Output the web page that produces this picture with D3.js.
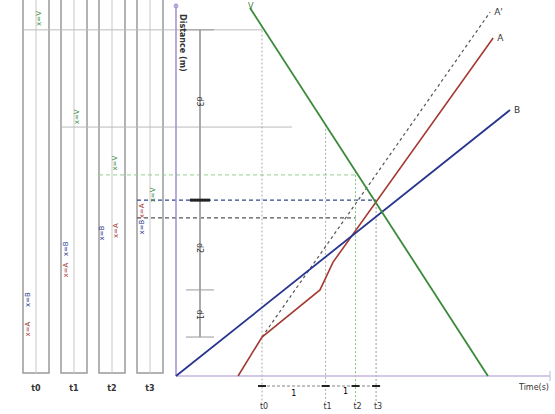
<!DOCTYPE html>
<html>
<head>
<meta charset="utf-8">
<script src="https://cdn.jsdelivr.net/npm/d3@7"></script>
<style>
  body { margin: 0; background: #fff; }
  text { font-family: "DejaVu Sans", sans-serif; }
</style>
</head>
<body>
<svg id="chart" width="555" height="414"></svg>
<script>
// snapshot times (s)
var timeNames = ['t0', 't1', 't2', 't3'];
var timeValues = [2.3, 4.0, 4.8, 5.35];

// position-time lines, [t, d]
var lineB = [[0, 0], [8.93, 7.17]];
var lineA = [[1.66, 0], [2.3, 1.05], [3.85, 2.32], [4.2, 3.07], [8.48, 9.11]];
var lineA2 = [[2.3, 1.05], [8.4, 9.81]];
var lineV = [[1.98, 9.92], [8.34, 0]];

// guide lines: distance, from lane, to time
var guideD = [9.33, 6.71, 5.42, 4.74, 4.26];
var guideLane = [0, 1, 2, 3, 3];
var guideTo = [2.3, 3.1, 4.8, 5.35, 4.8];

// ruler on the distance axis
var rulerTicks = [9.33, 4.74, 2.32, 1.05];
var rulerLabels = ['d3', 'd2', 'd1'];
var rulerLabelD = [7.4, 3.45, 1.65];

// which objects show in each lane
var laneObjects = [['V', 'B', 'A'], ['V', 'B', 'A'], ['V', 'B', 'A'], ['V', 'A', 'B']];
var intervalLabels = ['1', '1'];

var colours = { A: '#a43a33', B: '#28358f', V: '#3a8a3a', A2: '#555' };

var svg = d3.select('#chart');

var x = d3.scaleLinear().domain([0, 10]).range([176, 550]);
var y = d3.scaleLinear().domain([0, 10]).range([376, 5]);
var lane = d3.scalePoint().domain(timeNames).range([36, 150]);
var laneW = 26;

var line = d3.line()
    .x(function(d) { return x(d[0]); })
    .y(function(d) { return y(d[1]); });

// value of a polyline at time t
function valueAt(pts, t) {
  for (var i = 0; i < pts.length - 1; i++) {
    if (t >= pts[i][0] && t <= pts[i + 1][0]) {
      var k = (t - pts[i][0]) / (pts[i + 1][0] - pts[i][0]);
      return pts[i][1] + k * (pts[i + 1][1] - pts[i][1]);
    }
  }
  return pts[pts.length - 1][1];
}

var series = { A: lineA, B: lineB, V: lineV };

// lanes on the left
var lanes = svg.append('g');
timeNames.forEach(function(name) {
  var cx = lane(name);
  lanes.append('path')
    .attr('d', 'M' + (cx - laneW / 2) + ',0V373H' + (cx + laneW / 2) + 'V0')
    .attr('fill', 'none').attr('stroke', '#9a9a9a').attr('stroke-width', 1.5);
  lanes.append('line')
    .attr('x1', cx).attr('x2', cx).attr('y1', 0).attr('y2', 373)
    .attr('stroke', '#c8c8c8').attr('stroke-width', 1);
  lanes.append('text')
    .attr('x', cx).attr('y', 391).attr('text-anchor', 'middle')
    .attr('font-size', 8).attr('font-weight', 'bold').attr('fill', '#333').text(name);
});

// guide lines across lanes and plot
var guideColours = ['#bbb', '#bbb', '#8fd08f', '#34468f', '#555'];
var guideDash = [null, null, '4,3', '4,3', '4,3'];
guideD.forEach(function(d, i) {
  svg.append('line')
    .attr('x1', lane(timeNames[guideLane[i]]) - laneW / 2)
    .attr('x2', x(guideTo[i]))
    .attr('y1', y(d)).attr('y2', y(d))
    .attr('stroke', guideColours[i]).attr('stroke-width', i > 2 ? 1.2 : 1)
    .attr('stroke-dasharray', guideDash[i]);
});

// vertical time guides
var tColours = ['#aaa', '#aaa', '#7cc47c', '#999'];
timeValues.forEach(function(t, i) {
  var top = Math.min(valueAt(lineV, t), 10);
  svg.append('line')
    .attr('x1', x(t)).attr('x2', x(t))
    .attr('y1', y(top)).attr('y2', 402)
    .attr('stroke', tColours[i]).attr('stroke-width', 1)
    .attr('stroke-dasharray', '2,2');
  svg.append('text')
    .attr('x', x(t) + 2).attr('y', 409).attr('text-anchor', 'middle')
    .attr('font-size', 8).attr('fill', '#333').text(timeNames[i]);
});

// interval arrows under axis
svg.append('line')
  .attr('x1', x(timeValues[0])).attr('x2', x(timeValues[3]))
  .attr('y1', 386).attr('y2', 386)
  .attr('stroke', '#666').attr('stroke-width', 0.8).attr('stroke-dasharray', '3,2');
timeValues.forEach(function(t) {
  svg.append('rect')
    .attr('x', x(t) - 4).attr('y', 385).attr('width', 8).attr('height', 2)
    .attr('fill', '#222');
});
svg.append('text').attr('x', (x(timeValues[0]) + x(timeValues[1])) / 2).attr('y', 396)
  .attr('text-anchor', 'middle').attr('font-size', 8).text(intervalLabels[0]);
svg.append('text').attr('x', (x(timeValues[1]) + x(timeValues[2])) / 2 + 5).attr('y', 394)
  .attr('text-anchor', 'middle').attr('font-size', 8).text(intervalLabels[1]);

// axes
svg.append('line')
  .attr('x1', x(0)).attr('x2', x(10)).attr('y1', y(0)).attr('y2', y(0))
  .attr('stroke', '#c4b6dc').attr('stroke-width', 1.5);
svg.append('line')
  .attr('x1', x(10)).attr('x2', x(10)).attr('y1', y(0) - 5).attr('y2', y(0) + 5)
  .attr('stroke', '#c4b6dc');
svg.append('line')
  .attr('x1', x(0)).attr('x2', x(0)).attr('y1', y(0)).attr('y2', 4)
  .attr('stroke', '#a58cd0').attr('stroke-width', 1.5);
svg.append('circle').attr('cx', x(0)).attr('cy', 6).attr('r', 2)
  .attr('fill', 'none').attr('stroke', '#a58cd0');
svg.append('text')
  .attr('transform', 'translate(' + (x(0) + 4) + ',14) rotate(90)')
  .attr('font-size', 8).attr('font-weight', 'bold').attr('fill', '#333')
  .text('Distance (m)');
svg.append('text')
  .attr('x', 549).attr('y', 390).attr('text-anchor', 'end')
  .attr('font-size', 8).attr('fill', '#333').text('Time(s)');

// ruler
svg.append('line')
  .attr('x1', 200).attr('x2', 200)
  .attr('y1', y(rulerTicks[0])).attr('y2', y(rulerTicks[rulerTicks.length - 1]))
  .attr('stroke', '#aaa').attr('stroke-width', 2);
rulerTicks.forEach(function(d, i) {
  svg.append('line')
    .attr('x1', i == 1 ? 190 : 186).attr('x2', i == 1 ? 210 : 214)
    .attr('y1', y(d)).attr('y2', y(d))
    .attr('stroke', i == 1 ? '#222' : '#999').attr('stroke-width', i == 1 ? 3 : 1);
});
rulerLabels.forEach(function(lbl, i) {
  svg.append('text')
    .attr('transform', 'translate(197,' + y(rulerLabelD[i]) + ') rotate(90)')
    .attr('text-anchor', 'middle').attr('font-size', 8).attr('fill', '#333')
    .text(lbl);
});

// position-time lines
svg.append('path').datum(lineA2).attr('d', line)
  .attr('fill', 'none').attr('stroke', colours.A2).attr('stroke-width', 1.2)
  .attr('stroke-dasharray', '3,3');
svg.append('path').datum(lineA).attr('d', line)
  .attr('fill', 'none').attr('stroke', colours.A).attr('stroke-width', 1.6);
svg.append('path').datum(lineB).attr('d', line)
  .attr('fill', 'none').attr('stroke', colours.B).attr('stroke-width', 1.8);
svg.append('path').datum(lineV).attr('d', line)
  .attr('fill', 'none').attr('stroke', colours.V).attr('stroke-width', 1.8);

// end labels
var ends = [[lineA2, "A'"], [lineA, 'A'], [lineB, 'B']];
ends.forEach(function(e) {
  var p = e[0][e[0].length - 1];
  svg.append('text')
    .attr('x', x(p[0]) + 4).attr('y', y(p[1]) + 3)
    .attr('font-size', 9).attr('fill', '#333').text(e[1]);
});
svg.append('text')
  .attr('x', x(lineV[0][0]) - 2).attr('y', y(lineV[0][1]) + 1)
  .attr('font-size', 8).attr('fill', '#3a7a3a').text('V');

// object labels inside lanes, placed at their positions
timeNames.forEach(function(name, i) {
  var t = timeValues[i];
  var used = [];
  var side = 0;
  laneObjects[i].forEach(function(obj) {
    var d = valueAt(series[obj], t);
    var py = y(d) - 8;
    var px = lane(name) + (obj == 'V' ? 5 : -6);
    // A and B close together in lane t2: put them side by side
    if (i == 2 && obj != 'V') {
      px = lane(name) + (side == 0 ? -8 : 6);
      py = y(d);
      side++;
    } else {
      used.forEach(function(u) { if (Math.abs(py - u) < 16) py = u + 16; });
      used.push(py);
    }
    svg.append('text')
      .attr('transform', 'translate(' + px + ',' + py + ') rotate(-90)')
      .attr('text-anchor', 'middle').attr('font-size', 7)
      .attr('fill', colours[obj]).text('x=' + obj);
  });
});
</script>
</body>
</html>
